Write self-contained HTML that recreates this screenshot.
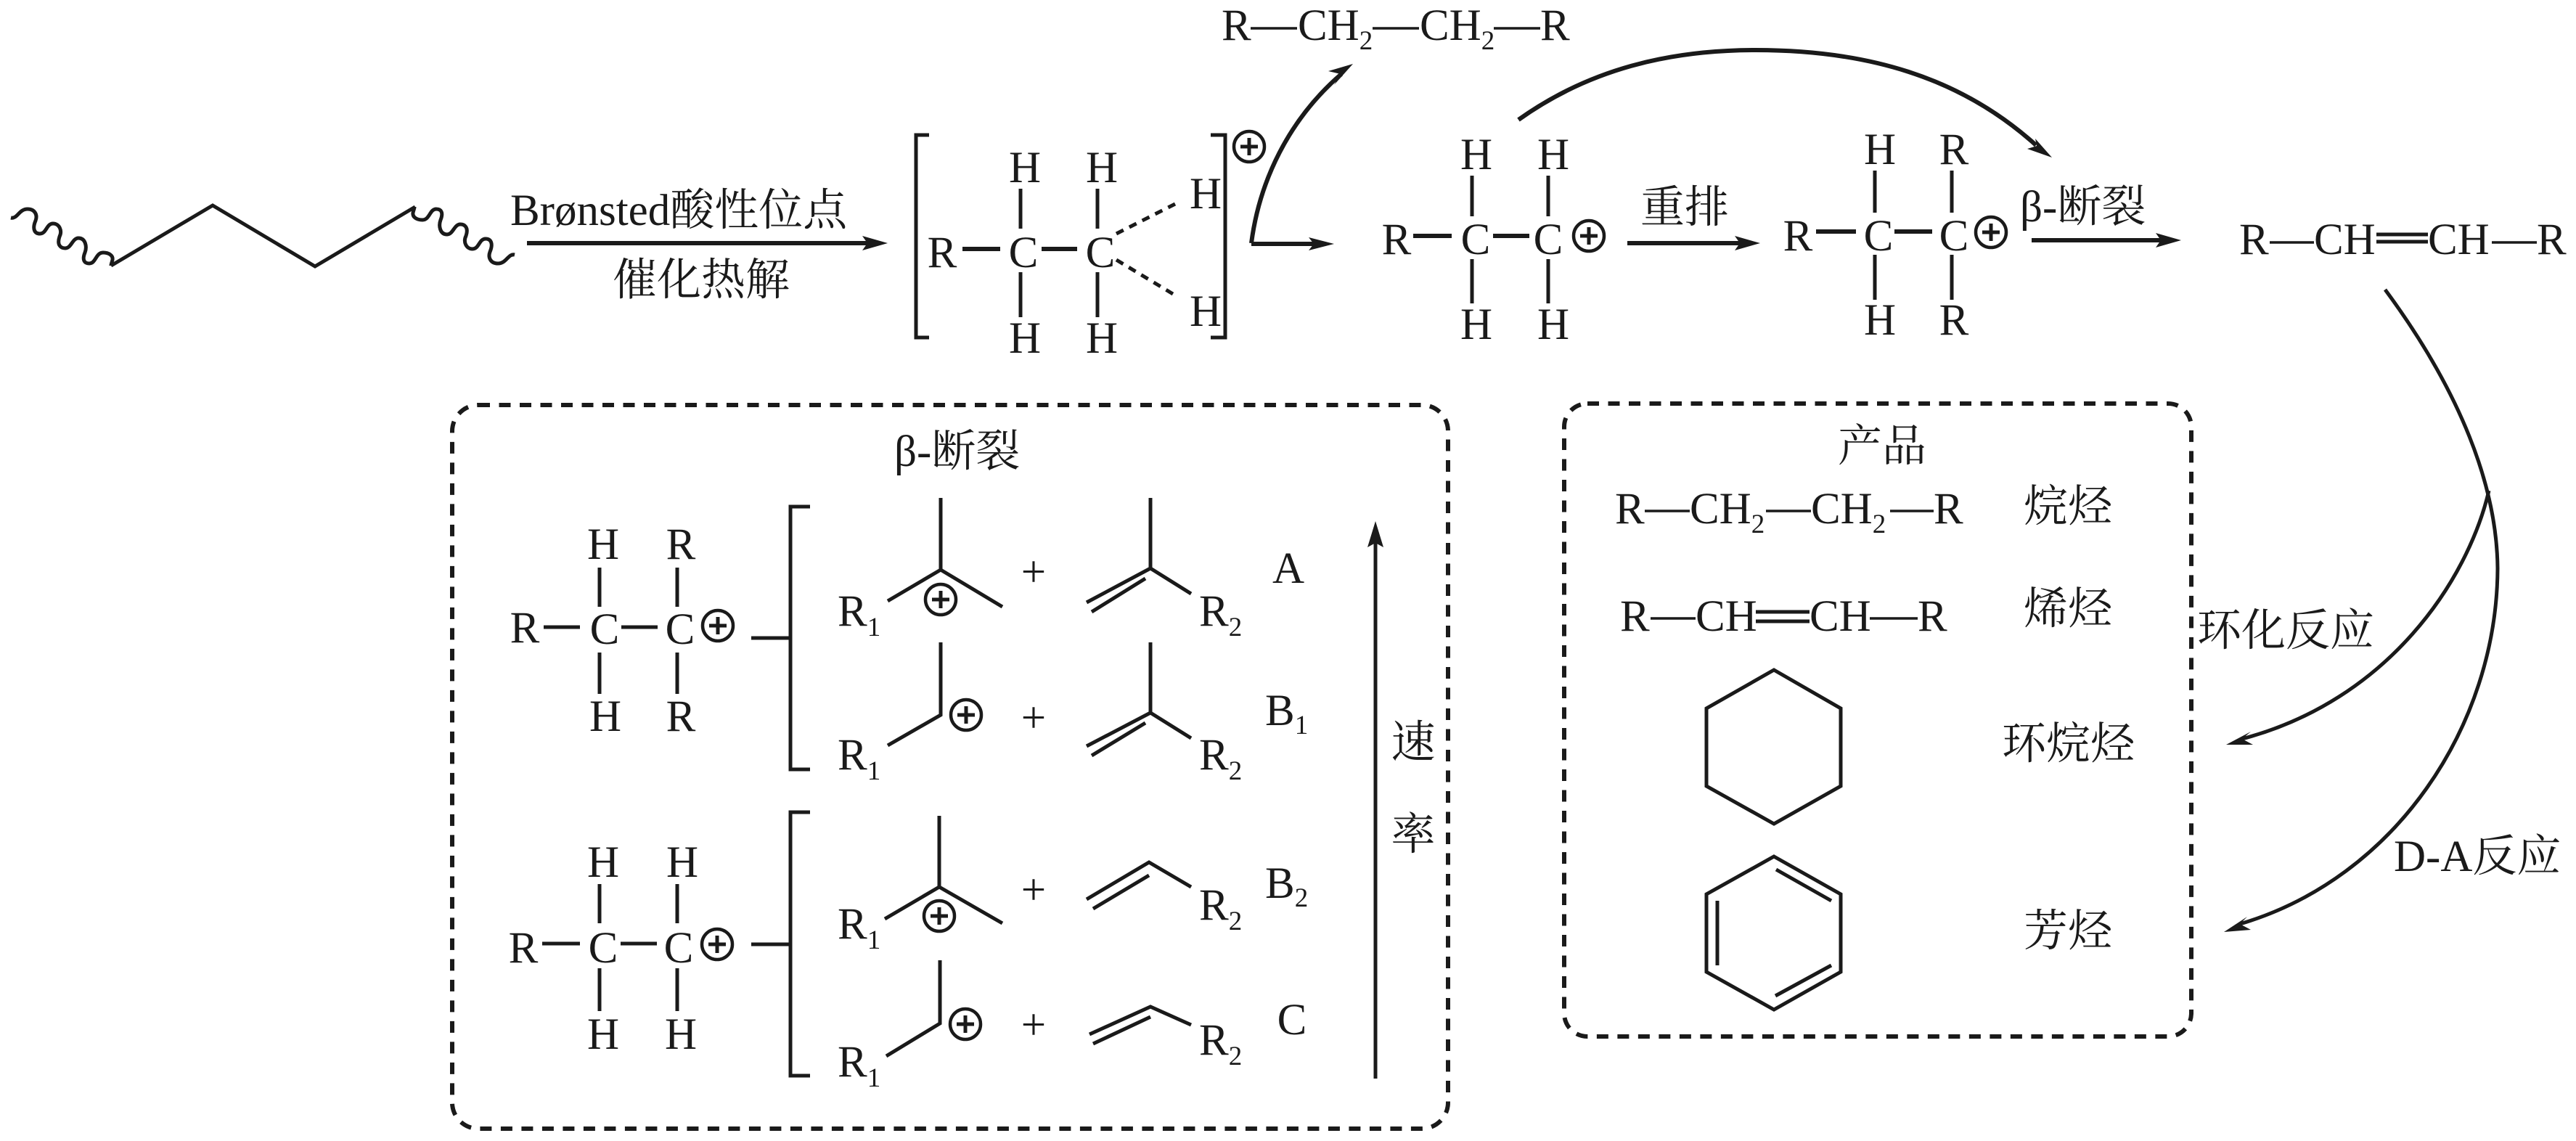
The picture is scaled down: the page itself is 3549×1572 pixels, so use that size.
<!DOCTYPE html>
<html><head><meta charset="utf-8"><style>
html,body{margin:0;padding:0;background:#fff;width:3549px;height:1572px;overflow:hidden}
svg{display:block}
text{font-family:"Liberation Serif","Noto Serif CJK SC",serif;font-size:61px;fill:#1a1a1a}
.m{text-anchor:middle}
.s{font-size:37px}
.l{stroke:#1a1a1a;stroke-width:5;fill:none}
.n{stroke:#1a1a1a;stroke-width:3.5;fill:none}
.t{stroke:#1a1a1a;stroke-width:6;fill:none}
.f{fill:#1a1a1a;stroke:none}
.c{fill:#fff;stroke:#1a1a1a;stroke-width:4.5}
.d{fill:none;stroke:#1a1a1a;stroke-width:6;stroke-dasharray:16 12.5}
</style></head><body>
<svg width="3549" height="1572" viewBox="0 0 3549 1572" xmlns="http://www.w3.org/2000/svg">
<defs>
<g id="plus"><circle class="c" cx="0" cy="0" r="21"/><path class="l" d="M-12,0H12M0,-12V12"/></g>
<path id="wave" class="l" d="M15,300 C24,302 26,288 38,288 C48,288 52,296 49,304 C44,316 48,322 55,322 C64,322 64,308 73,308 C82,308 86,318 82,326 C78,338 84,342 90,342 C98,342 100,328 108,328 C118,328 120,340 117,348 C113,358 116,363 123,363 C132,363 132,348 142,348 C150,348 156,352 155,358 C154,362 153,364 153,366"/>
</defs>

<!-- polymer chain -->
<use href="#wave"/>
<use href="#wave" transform="translate(724 651) rotate(180)"/>
<path class="l" d="M153,366L293,283L434,367L572,285"/>

<text x="703" y="310">Brønsted酸性位点</text>
<text x="844" y="406">催化热解</text>
<path class="t" d="M726,335H1200"/><polygon class="f" points="1223,335 1188,325 1195,335 1188,345"/>

<!-- bracketed ion -->
<path class="l" d="M1280,186H1262V465H1280"/>
<path class="l" d="M1668,186H1688V465H1668"/>
<text class="m" x="1298" y="368">R</text>
<text class="m" x="1410" y="368">C</text>
<text class="m" x="1516" y="368">C</text>
<text class="m" x="1412" y="251">H</text>
<text class="m" x="1518" y="251">H</text>
<text class="m" x="1412" y="486">H</text>
<text class="m" x="1518" y="486">H</text>
<text class="m" x="1661" y="287">H</text>
<text class="m" x="1661" y="449">H</text>
<path class="t" d="M1326,343H1378M1435,343H1484"/>
<path class="l" d="M1406,260V315M1512,260V315M1406,375V437M1512,375V437"/>
<path class="l" style="stroke-dasharray:11 9;stroke-width:5" d="M1538,322L1619,281M1538,358L1621,408"/>
<use href="#plus" x="1721" y="202"/>

<!-- ion -> alkane and -> next -->
<path class="t" d="M1724,335C1735,250 1775,165 1848,102"/>
<polygon class="f" points="1864,88 1830,98 1847,102 1838,117"/>
<path class="t" d="M1724,336H1815"/><polygon class="f" points="1838,336 1803,327 1810,336 1803,345"/>

<!-- top alkane -->
<text x="1683" y="55">R</text>
<text x="1788" y="55">CH<tspan class="s" dy="13">2</tspan></text>
<text x="1956" y="55">CH<tspan class="s" dy="13">2</tspan></text>
<text x="2122" y="55">R</text>
<path class="n" d="M1723,39H1787M1891,39H1955M2058,39H2122"/>

<path class="t" d="M2092,165C2190,95 2300,69 2419,69C2570,69 2700,105 2805,200"/>
<polygon class="f" points="2827,217 2793,205 2806,201 2804,191"/>

<!-- carbocation 1 -->
<text class="m" x="1924" y="350">R</text>
<text class="m" x="2033" y="350">C</text>
<text class="m" x="2133" y="350">C</text>
<text class="m" x="2034" y="233">H</text>
<text class="m" x="2140" y="233">H</text>
<text class="m" x="2034" y="467">H</text>
<text class="m" x="2140" y="467">H</text>
<path class="t" d="M1947,325H2000M2057,325H2107"/>
<path class="l" d="M2028,242V298M2133,242V298M2028,357V418M2133,357V418"/>
<use href="#plus" x="2189" y="325"/>

<text x="2260" y="306">重排</text>
<path class="t" d="M2242,335H2405"/><polygon class="f" points="2425,335 2390,325 2397,335 2390,345"/>

<!-- carbocation 2 -->
<text class="m" x="2477" y="345">R</text>
<text class="m" x="2588" y="345">C</text>
<text class="m" x="2692" y="345">C</text>
<text class="m" x="2590" y="226">H</text>
<text class="m" x="2692" y="226">R</text>
<text class="m" x="2590" y="461">H</text>
<text class="m" x="2692" y="461">R</text>
<path class="t" d="M2502,319H2557M2610,319H2662"/>
<path class="l" d="M2583,235V293M2689,235V293M2583,351V413M2689,351V413"/>
<use href="#plus" x="2743" y="320"/>

<text x="2783" y="305">β-断裂</text>
<path class="t" d="M2799,331H2985"/><polygon class="f" points="3005,331 2970,321 2977,331 2970,341"/>

<!-- alkene -->
<text x="3085" y="350">R</text>
<text x="3188" y="350">CH</text>
<text x="3345" y="350">CH</text>
<text x="3495" y="350">R</text>
<path class="n" d="M3127,334H3188M3433,334H3495"/>
<path class="l" d="M3274,323H3345M3274,333H3345"/>

<!-- right curves -->
<path class="l" d="M3286,399C3390,540 3440,670 3441,783C3440,1000 3300,1210 3086,1273"/>
<polygon class="f" points="3064,1284 3096,1263 3086,1273 3101,1281"/>
<path class="l" d="M3429,676C3400,800 3290,965 3089,1018"/>
<polygon class="f" points="3067,1026 3101,1008 3089,1018 3104,1026"/>
<text x="3027" y="889">环化反应</text>
<text x="3298" y="1200">D-A反应</text>

<!-- Box 1 -->
<rect class="d" x="623" y="558" width="1372" height="997" rx="36" ry="36"/>
<text x="1232" y="642">β-断裂</text>

<text class="m" x="723" y="885">R</text>
<text class="m" x="833" y="887">C</text>
<text class="m" x="937" y="887">C</text>
<text class="m" x="831" y="770">H</text>
<text class="m" x="938" y="770">R</text>
<text class="m" x="834" y="1007">H</text>
<text class="m" x="938" y="1007">R</text>
<path class="l" d="M749,864H799M856,864H906M826,782V836M826,899V956M933,782V836M933,899V956"/>
<use href="#plus" x="989" y="862"/>
<path class="l" d="M1035,879H1089M1116,698H1089V1060H1116"/>

<!-- row 1 -->
<text x="1154" y="862">R<tspan class="s" dy="14">1</tspan></text>
<path class="l" d="M1296,686V785M1223,828L1296,785L1381,836"/>
<use href="#plus" x="1296" y="826"/>
<text class="m" x="1424" y="808">+</text>
<path class="l" d="M1585,686V783L1641,818M1585,783L1497,830M1578,797L1504,843"/>
<text x="1652" y="862">R<tspan class="s" dy="14">2</tspan></text>
<text class="m" x="1775" y="803">A</text>

<!-- row 2 -->
<text x="1154" y="1060">R<tspan class="s" dy="14">1</tspan></text>
<path class="l" d="M1296,885V985L1223,1027"/>
<use href="#plus" x="1331" y="985"/>
<text class="m" x="1424" y="1009">+</text>
<path class="l" d="M1585,885V982L1641,1017M1585,982L1497,1028M1578,996L1504,1041"/>
<text x="1652" y="1060">R<tspan class="s" dy="14">2</tspan></text>
<text x="1743" y="999">B<tspan class="s" dy="12">1</tspan></text>

<!-- structure 2 -->
<text class="m" x="721" y="1326">R</text>
<text class="m" x="831" y="1326">C</text>
<text class="m" x="935" y="1326">C</text>
<text class="m" x="831" y="1208">H</text>
<text class="m" x="940" y="1208">H</text>
<text class="m" x="831" y="1445">H</text>
<text class="m" x="938" y="1445">H</text>
<path class="l" d="M747,1300H799M855,1300H905M826,1218V1272M826,1334V1393M933,1218V1272M933,1334V1393"/>
<use href="#plus" x="988" y="1301"/>
<path class="l" d="M1035,1301H1089M1116,1119H1089V1482H1116"/>

<!-- row 3 -->
<text x="1154" y="1293">R<tspan class="s" dy="14">1</tspan></text>
<path class="l" d="M1294,1124V1222M1219,1266L1294,1222L1381,1272"/>
<use href="#plus" x="1294" y="1262"/>
<text class="m" x="1424" y="1246">+</text>
<path class="l" d="M1497,1239L1583,1188L1641,1222M1506,1252L1583,1206"/>
<text x="1652" y="1267">R<tspan class="s" dy="14">2</tspan></text>
<text x="1743" y="1237">B<tspan class="s" dy="12">2</tspan></text>

<!-- row 4 -->
<text x="1154" y="1483">R<tspan class="s" dy="14">1</tspan></text>
<path class="l" d="M1295,1323V1410L1221,1455"/>
<use href="#plus" x="1330" y="1411"/>
<text class="m" x="1424" y="1432">+</text>
<path class="l" d="M1501,1425L1585,1387L1641,1412M1506,1438L1585,1401"/>
<text x="1652" y="1453">R<tspan class="s" dy="14">2</tspan></text>
<text class="m" x="1780" y="1425">C</text>

<path class="l" d="M1895,1486V740"/><polygon class="f" points="1895,718 1884,754 1895,748 1906,754"/>
<text class="m" x="1947" y="1043">速</text>
<text class="m" x="1947" y="1170">率</text>

<!-- Box 2 -->
<rect class="d" x="2155" y="556" width="864" height="872" rx="32" ry="32"/>
<text x="2532" y="635">产品</text>

<text x="2225" y="721">R</text>
<text x="2328" y="721">CH<tspan class="s" dy="13">2</tspan></text>
<text x="2495" y="721">CH<tspan class="s" dy="13">2</tspan></text>
<text x="2664" y="721">R</text>
<path class="n" d="M2266,704H2328M2433,704H2495M2604,704H2664"/>
<text x="2788" y="718">烷烃</text>

<text x="2232" y="869">R</text>
<text x="2336" y="869">CH</text>
<text x="2493" y="869">CH</text>
<text x="2642" y="869">R</text>
<path class="n" d="M2274,852H2336M2576,852H2642"/>
<path class="l" d="M2419,843H2493M2419,856H2493"/>
<text x="2788" y="859">烯烃</text>

<polygon class="l" points="2444,923 2536,976 2536,1083 2444,1135 2351,1083 2351,976"/>
<text x="2758" y="1045">环烷烃</text>

<polygon class="l" points="2444,1180 2536,1232 2536,1339 2444,1391 2351,1339 2351,1232"/>
<path class="l" d="M2447,1198L2523,1241M2366,1241V1330M2446,1372L2523,1330"/>
<text x="2788" y="1303">芳烃</text>
</svg>
</body></html>
